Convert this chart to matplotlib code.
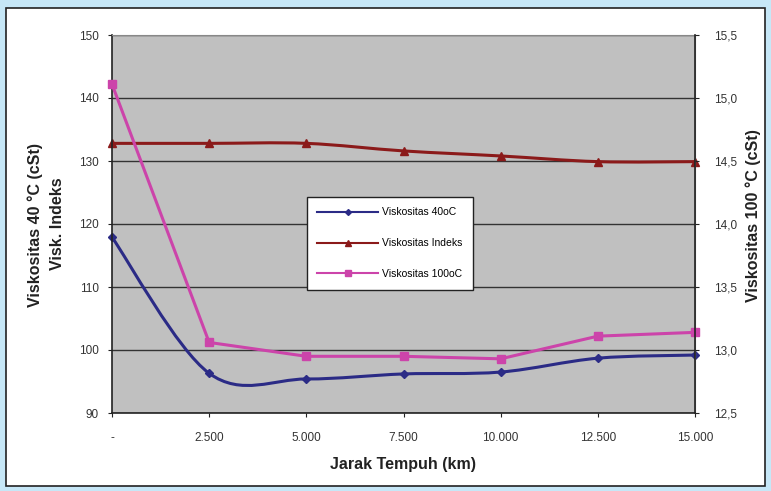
import matplotlib.pyplot as plt
from matplotlib.path import Path
from matplotlib.patches import PathPatch, Rectangle
from matplotlib.lines import Line2D

plt.rcParams['font.family'] = ['Liberation Sans', 'DejaVu Sans']

jarak = [0, 2500, 5000, 7500, 10000, 12500, 15000]
x_labels = ['-', '2.500', '5.000', '7.500', '10.000', '12.500', '15.000']
visk_40 = [117.9, 96.3, 95.4, 96.2, 96.5, 98.7, 99.2]
visk_indeks = [132.8, 132.8, 132.8, 131.6, 130.8, 129.9, 129.9]
visk_100 = [15.11, 13.06, 12.95, 12.95, 12.93, 13.11, 13.14]

blue = '#2b2b86'
red = '#8b1a1a'
pink = '#cc44aa'


def smooth_path(xs, ys):
    # excel-like smoothed line: catmull-rom segments as cubic beziers
    n = len(xs)
    verts = [(xs[0], ys[0])]
    codes = [Path.MOVETO]
    for i in range(n - 1):
        i0 = max(i - 1, 0)
        i3 = min(i + 2, n - 1)
        c1 = (xs[i] + (xs[i + 1] - xs[i0]) / 6, ys[i] + (ys[i + 1] - ys[i0]) / 6)
        c2 = (xs[i + 1] - (xs[i3] - xs[i]) / 6, ys[i + 1] - (ys[i3] - ys[i]) / 6)
        verts += [c1, c2, (xs[i + 1], ys[i + 1])]
        codes += [Path.CURVE4] * 3
    return Path(verts, codes)


fig = plt.figure(figsize=(7.71, 4.91), dpi=100)
fig.patch.set_facecolor('#c6e7f7')
fig.patches.append(Rectangle((6 / 771, 1 - 486 / 491), 759 / 771, 478 / 491,
                             transform=fig.transFigure, facecolor='white',
                             edgecolor='#222222', linewidth=1.2, zorder=-5))

ax = fig.add_axes([112 / 771, 1 - 413 / 491, 583 / 771, 378 / 491])
ax.set_facecolor('#c0c0c0')
ax.set_xlim(0, 15000)
ax.set_ylim(90, 150)
ax.set_yticks(range(90, 151, 10))
ax.set_xticks(jarak)
ax.set_xticklabels(x_labels)
ax.grid(axis='y', color='#333333', linewidth=1.0)
ax.set_axisbelow(True)
for s in ['top', 'right']:
    ax.spines[s].set_color('#888888')
for s in ['left', 'bottom']:
    ax.spines[s].set_color('#222222')
    ax.spines[s].set_linewidth(1.2)
ax.tick_params(axis='y', labelsize=8.5, length=3, color='#222222', pad=6.5,
               labelcolor='#333333')
ax.tick_params(axis='x', labelsize=8.5, length=3, color='#222222', pad=11,
               labelcolor='#333333')

ax2 = ax.twinx()
ax2.set_ylim(12.5, 15.5)
ax2.set_yticks([12.5, 13.0, 13.5, 14.0, 14.5, 15.0, 15.5])
ax2.set_yticklabels(['12,5', '13,0', '13,5', '14,0', '14,5', '15,0', '15,5'])
ax2.tick_params(labelsize=8.5, length=3, color='#222222', pad=11,
                labelcolor='#333333')
for s in ['top', 'left', 'bottom']:
    ax2.spines[s].set_visible(False)
ax2.spines['right'].set_color('#222222')
ax2.spines['right'].set_linewidth(1.2)

ax.add_patch(PathPatch(smooth_path(jarak, visk_40), facecolor='none',
                       edgecolor=blue, linewidth=2.2))
ax.plot(jarak, visk_40, linestyle='none', marker='D', markersize=4, color=blue,
        clip_on=False)
ax.add_patch(PathPatch(smooth_path(jarak, visk_indeks), facecolor='none',
                       edgecolor=red, linewidth=2.2))
ax.plot(jarak, visk_indeks, linestyle='none', marker='^', markersize=6, color=red,
        clip_on=False)
ax2.plot(jarak, visk_100, color=pink, linewidth=2.2, marker='s', markersize=6,
         clip_on=False)

handles = [Line2D([], [], color=blue, marker='D', markersize=3, linewidth=1.5),
           Line2D([], [], color=red, marker='^', markersize=4, linewidth=1.5),
           Line2D([], [], color=pink, marker='s', markersize=4, linewidth=1.5)]
leg = ax2.legend(handles, ['Viskositas 40oC', 'Viskositas Indeks', 'Viskositas 100oC'],
                 loc='upper left', bbox_to_anchor=(307 / 771, 1 - 197 / 491),
                 bbox_transform=fig.transFigure, borderaxespad=0,
                 fontsize=7.5, frameon=True, fancybox=False, framealpha=1,
                 edgecolor='#222222', handlelength=5.8, labelspacing=2.0,
                 borderpad=1.0, handletextpad=0.4)
leg.get_frame().set_linewidth(1.0)

ax.set_xlabel('Jarak Tempuh (km)', fontsize=11.5, fontweight='bold', labelpad=9,
              color='#222222')
fig.text(35 / 771, 1 - 225 / 491, 'Viskositas 40 °C (cSt)', rotation=90,
         ha='center', va='center', fontsize=11.5, fontweight='bold', color='#222222')
fig.text(57 / 771, 1 - 224 / 491, 'Visk. Indeks', rotation=90,
         ha='center', va='center', fontsize=11.5, fontweight='bold', color='#222222')
fig.text(753 / 771, 1 - 216 / 491, 'Viskositas 100 °C (cSt)', rotation=90,
         ha='center', va='center', fontsize=11.5, fontweight='bold', color='#222222')

fig.savefig('out.png', dpi=100, facecolor=fig.get_facecolor())
